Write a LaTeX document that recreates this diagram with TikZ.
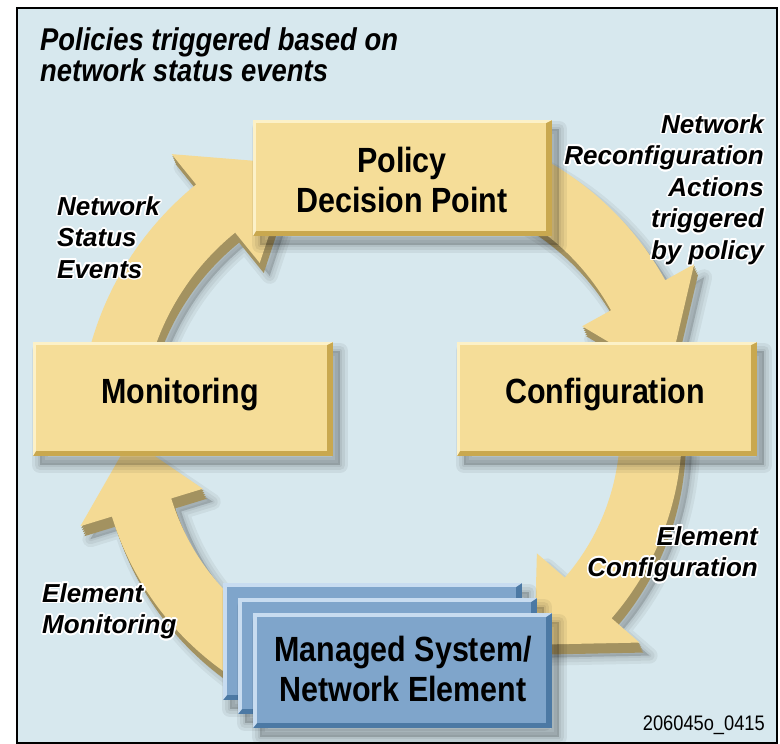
\documentclass[tikz,border=0pt]{standalone}
\usepackage{fontspec}
\setmainfont{Liberation Sans}
\newfontfamily\condfont{Liberation Sans}[FakeStretch=0.87]
\usepackage{contour}
\contourlength{1.6pt}
\contournumber{24}
\usetikzlibrary{calc}

\definecolor{bg}{HTML}{D7E8EE}
\definecolor{yface}{HTML}{F5DD98}
\definecolor{ylight}{HTML}{FCF1C8}
\definecolor{ydark}{HTML}{C9A84F}
\definecolor{aface}{HTML}{F4DA94}
\definecolor{aside}{HTML}{A39260}
\definecolor{bface}{HTML}{7FA5CB}
\definecolor{blight}{HTML}{C8DCF0}
\definecolor{bdark}{HTML}{4C79A4}

\def\cx{395}
\def\cy{430}

% arrow outline along a circle about (\cx,\cy)
% #1 options, #2 start angle, #3 head base angle, #4 tip angle, #5 radius, #6 half body width, #7 half head width
\newcommand\arrowshape[7]{%
  \path[#1] plot[domain=#2:#3,samples=40] ({\cx+(#5+#6)*cos(\x)},{\cy+(#5+#6)*sin(\x)})
   -- ({\cx+(#5+#7)*cos(#3)},{\cy+(#5+#7)*sin(#3)})
   -- ({\cx+#5*cos(#4)},{\cy+#5*sin(#4)})
   -- ({\cx+(#5-#7)*cos(#3)},{\cy+(#5-#7)*sin(#3)})
   -- plot[domain=#3:#2,samples=40] ({\cx+(#5-#6)*cos(\x)},{\cy+(#5-#6)*sin(\x)})
   -- cycle;}
\newcommand\cyclearrow[6]{%
  \begin{scope}[shift={(10,13)}]
    \foreach \lw in {16,10,4}{\arrowshape{draw=black,fill=black,opacity=0.05,line width=\lw pt,line join=round}{#1}{#2}{#3}{#4}{#5}{#6}}
  \end{scope}
  \foreach \k in {5,4,3,2,1}{\arrowshape{fill=aside,shift={(0.8*\k,2*\k)}}{#1}{#2}{#3}{#4}{#5}{#6}}
  \arrowshape{fill=aface}{#1}{#2}{#3}{#4}{#5}{#6}}

% soft shadow of a rectangle
\newcommand\rectshadow[4]{%
  \begin{scope}[shift={(7,9)}]
    \foreach \lw in {16,10,4}{\draw[black,fill=black,opacity=0.06,line width=\lw pt,line join=round] (#1,#2) rectangle (#3,#4);}
  \end{scope}}

% yellow bevelled box: #1 name, #2..#5 corners
\newcommand\ybox[5]{%
  \rectshadow{#2}{#3}{#4}{#5}
  \fill[ydark] (#2,#3) rectangle (#4,#5);
  \fill[ylight] (#2,#3) -- (#4,#3) -- ({#4-6},{#3+3}) -- ({#2+3},{#3+3}) -- ({#2+3},{#5-5}) -- (#2,#5) -- cycle;
  \node[fill=yface,inner sep=0,anchor=north west,minimum width={#4-#2-9},minimum height={#5-#3-8}] (#1) at ({#2+3},{#3+3}) {};}

% blue bevelled box
\newcommand\bbox[5]{%
  \rectshadow{#2}{#3}{#4}{#5}
  \fill[bdark] (#2,#3) rectangle (#4,#5);
  \fill[blight] (#2,#3) -- (#4,#3) -- ({#4-6},{#3+4}) -- ({#2+4},{#3+4}) -- ({#2+4},{#5-5}) -- (#2,#5) -- cycle;
  \node[fill=bface,inner sep=0,anchor=north west,minimum width={#4-#2-10},minimum height={#5-#3-9}] (#1) at ({#2+4},{#3+4}) {};}

\newcommand\hl[1]{\contour{white}{#1}}

\tikzset{
  lbl/.style={font=\fontsize{26}{31.5}\selectfont\bfseries\itshape,inner sep=0},
  boxtxt/.style={font=\condfont\fontsize{35}{40}\selectfont\bfseries,inner sep=0,align=center},
}

\begin{document}
\begin{tikzpicture}[x=1pt,y=-1pt]
\useasboundingbox (0,0) rectangle (780,744);
\fill[white] (0,0) rectangle (780,744);
\draw[line width=2pt,fill=bg] (17,8) rectangle (777,743);
\coordinate (C) at (\cx,\cy);

% title
\node[font=\condfont\fontsize{31.5}{31}\selectfont\bfseries\itshape,align=left,anchor=north west,inner sep=0] (title) at (40,27)
  {Policies triggered based on\\network status events};

% cycle arrows
\cyclearrow{195}{231}{249}{285}{31}{70}
\cyclearrow{295}{331}{349}{278}{31}{64}
\cyclearrow{0}{41}{57}{256}{31}{68}
\cyclearrow{122}{163}{178}{265}{31}{64}

% boxes
\ybox{pdp}{253}{120}{552}{236}
\ybox{mon}{33}{342}{333}{456}
\ybox{conf}{457}{342}{757}{456}
\bbox{mse1}{223}{583}{522}{700}
\bbox{mse2}{238}{598}{537}{714}
\bbox{mse3}{253}{613}{552}{728}

% box texts
\node[boxtxt] (pdptext) at (402,180) {Policy\\Decision Point};
\node[boxtxt,anchor=base] (montext) at (180,403) {Monitoring};
\node[boxtxt,anchor=base] (conftext) at (605,403) {Configuration};
\node[boxtxt] (msetext) at (403,669) {Managed System/\\Network Element};

% labels
\node[lbl,align=left,anchor=north west] (nse) at (57,196) {\hl{Network}\\\hl{Status}\\\hl{Events}};
\node[lbl,align=right,anchor=north east] (nra) at (764,114) {\hl{Network}\\\hl{Reconfiguration}\\\hl{Actions}\\\hl{triggered}\\\hl{by policy}};
\node[lbl,align=right,anchor=north east] (ec) at (758,526) {\hl{Element}\\\hl{Configuration}};
\node[lbl,align=left,anchor=north west] (em) at (42,583) {\hl{Element}\\\hl{Monitoring}};
\node[font=\condfont\fontsize{21}{21}\selectfont,anchor=base east,inner sep=0] (id) at (765,730) {206045o\_0415};
\end{tikzpicture}
\end{document}
